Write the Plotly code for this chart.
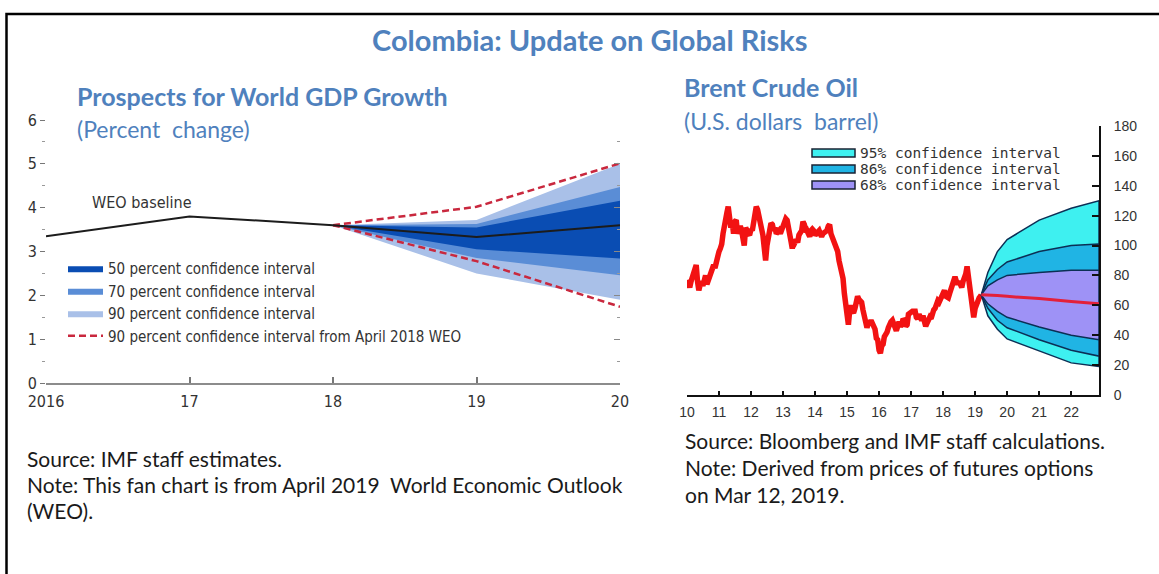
import datetime as dt
import plotly.graph_objects as go

# ---------------- World GDP growth fan chart (percent change) ----------------
gdp_years = [2016, 2017, 2018, 2019, 2020]
gdp_year_labels = ["2016", "17", "18", "19", "20"]
weo_baseline = [3.35, 3.8, 3.6, 3.33, 3.6]

fan_years = [2018, 2019, 2020]
ci50_low = [3.6, 3.05, 2.84]
ci50_high = [3.6, 3.55, 4.16]
ci70_low = [3.6, 2.85, 2.46]
ci70_high = [3.6, 3.63, 4.47]
ci90_low = [3.6, 2.5, 1.9]
ci90_high = [3.6, 3.72, 5.0]
weo2018_low = [3.6, 2.78, 1.74]
weo2018_high = [3.6, 4.02, 5.01]

gdp_yticks = [0, 1, 2, 3, 4, 5, 6]

# ---------------- Brent crude oil (U.S. dollars a barrel) ----------------
# semi-monthly readings (1st and 16th of each month)
brent_2010 = [77, 74, 72, 76, 79, 80, 84, 87, 76, 70, 74, 76, 73, 77, 80, 74, 77, 79, 82, 83, 87, 85, 90, 93]
brent_2011 = [96, 98, 101, 108, 114, 115, 122, 126, 114, 112, 116, 108, 116, 117, 108, 110, 113, 110, 104, 100, 112, 109, 108, 107]
brent_2012 = [111, 110, 118, 122, 126, 124, 120, 118, 112, 107, 98, 90, 100, 105, 113, 115, 114, 110, 112, 108, 109, 110, 108, 111]
brent_2013 = [112, 114, 118, 117, 110, 108, 103, 98, 103, 102, 104, 102, 107, 109, 110, 116, 114, 109, 110, 108, 106, 110, 111, 110]
brent_2014 = [107, 108, 109, 110, 108, 106, 108, 109, 110, 110, 113, 114, 108, 106, 104, 102, 99, 96, 90, 86, 80, 78, 68, 60]
brent_2015 = [50, 47, 57, 60, 56, 55, 58, 63, 66, 64, 63, 62, 57, 54, 49, 45, 48, 48, 50, 48, 45, 44, 38, 37]
brent_2016 = [30, 28, 33, 34, 39, 40, 42, 45, 48, 49, 50, 48, 46, 43, 46, 49, 46, 47, 51, 50, 46, 47, 54, 55]
brent_2017 = [55, 56, 56, 56, 52, 51, 54, 52, 50, 53, 47, 46, 48, 51, 52, 51, 55, 57, 58, 60, 63, 62, 64, 66]
brent_2018 = [69, 70, 66, 65, 65, 68, 71, 74, 77, 79, 76, 74, 76, 73, 72, 76, 78, 81, 86, 80, 70, 62, 60, 52]
brent_2019_dates = ["2019-01-01", "2019-01-16", "2019-02-01", "2019-02-16", "2019-03-01", "2019-03-12"]
brent_2019 = [58, 61, 62, 65, 66, 67]

# futures-implied distribution from Mar 12, 2019
oil_fan_dates = ["2019-03-12", "2019-05-26", "2019-09-12", "2020-01-01", "2021-01-01", "2022-01-01", "2022-11-14"]
oil_median = [67, 67, 66.5, 66, 64.5, 62.5, 61]
oil_ci68_high = [67, 73, 77, 80, 82, 83.5, 83.5]
oil_ci68_low = [67, 61, 56, 52, 45.5, 40, 37]
oil_ci86_high = [67, 77, 84, 89, 96, 100, 101]
oil_ci86_low = [67, 58, 50, 45, 37, 30, 26]
oil_ci95_high = [67, 82, 96, 104, 117, 125, 130]
oil_ci95_low = [67, 53, 44, 37.5, 29.5, 21.5, 19]

oil_legend_labels = ["95% confidence interval", "86% confidence interval", "68% confidence interval"]
oil_year_labels = ["10", "11", "12", "13", "14", "15", "16", "17", "18", "19", "20", "21", "22"]
oil_yticks = [0, 20, 40, 60, 80, 100, 120, 140, 160, 180]

# assemble the oil history series
brent_by_year = {2010: brent_2010, 2011: brent_2011, 2012: brent_2012, 2013: brent_2013,
                 2014: brent_2014, 2015: brent_2015, 2016: brent_2016, 2017: brent_2017,
                 2018: brent_2018}
brent_dates, brent_values = [], []
for yr, vals in brent_by_year.items():
    for k, v in enumerate(vals):
        brent_dates.append(dt.date(yr, k // 2 + 1, 1 if k % 2 == 0 else 16).isoformat())
        brent_values.append(v)
brent_dates += brent_2019_dates
brent_values += brent_2019

# ---------------- styling ----------------
W, H = 1159, 574
BLUE_TITLE = "#4F81BD"
NARROW = "Liberation Sans Narrow, DejaVu Sans Condensed, Arial Narrow, Roboto, sans-serif"
CALIBRI = "Lato, Open Sans, sans-serif"
ARIAL = "Liberation Sans, Arial, sans-serif"
MONO = "DejaVu Sans Mono, Liberation Mono, monospace"

OIL_COLORS = ["#3EF0F0", "#20B4E4", "#9E92F6"]
OIL_EDGE = "#0C2F55"


def px_x(p):
    return p / W


def px_y(p):
    return 1 - p / H


fig = go.Figure()


def band(x, low, high, color, name, xa, ya, rank, line=None, legend=True):
    fig.add_trace(go.Scatter(
        x=list(x) + list(x)[::-1], y=list(high) + list(low)[::-1],
        fill="toself", fillcolor=color, mode="lines",
        line=line or dict(width=0, color=color),
        name=name, xaxis=xa, yaxis=ya, legendrank=rank,
        hoverinfo="skip", showlegend=legend))


# left fan: widest first so narrower bands sit on top
band(fan_years, ci90_low, ci90_high, "#A9C0E8", "90 percent confidence interval", "x", "y", 3)
band(fan_years, ci70_low, ci70_high, "#5A8DD6", "70 percent confidence interval", "x", "y", 2)
band(fan_years, ci50_low, ci50_high, "#0A4DB3", "50 percent confidence interval", "x", "y", 1)

# baseline sits on the mirrored right-hand axis (same 0-6 scale)
fig.add_trace(go.Scatter(x=gdp_years, y=weo_baseline, mode="lines",
                         line=dict(color="#1c1c1c", width=2), showlegend=False,
                         xaxis="x", yaxis="y2"))
red_dash = dict(color="#C9283E", width=2.5, dash="7px,4px")
fig.add_trace(go.Scatter(x=fan_years, y=weo2018_high, mode="lines", line=red_dash,
                         name="90 percent confidence interval from April 2018 WEO",
                         legendrank=4, xaxis="x", yaxis="y"))
fig.add_trace(go.Scatter(x=fan_years, y=weo2018_low, mode="lines", line=red_dash,
                         showlegend=False, xaxis="x", yaxis="y"))

# right chart: oil history
fig.add_trace(go.Scatter(x=brent_dates, y=brent_values, mode="lines",
                         line=dict(color="#F21212", width=5.5), showlegend=False,
                         xaxis="x2", yaxis="y3"))

edge = dict(color=OIL_EDGE, width=1.5)
band(oil_fan_dates, oil_ci95_low, oil_ci95_high, OIL_COLORS[0], oil_legend_labels[0], "x2", "y3", 5, edge, False)
band(oil_fan_dates, oil_ci86_low, oil_ci86_high, OIL_COLORS[1], oil_legend_labels[1], "x2", "y3", 6, edge, False)
band(oil_fan_dates, oil_ci68_low, oil_ci68_high, OIL_COLORS[2], oil_legend_labels[2], "x2", "y3", 7, edge, False)
fig.add_trace(go.Scatter(x=oil_fan_dates, y=oil_median, mode="lines",
                         line=dict(color="#E3203A", width=3), showlegend=False,
                         xaxis="x2", yaxis="y3"))

tick_font = dict(family=NARROW, size=16, color="#333333")
oil_tick_font = dict(family=ARIAL, size=14, color="#333333")

fig.update_layout(
    width=W, height=H, margin=dict(l=0, r=0, t=0, b=0, autoexpand=False),
    paper_bgcolor="white", plot_bgcolor="rgba(0,0,0,0)",
    xaxis=dict(domain=[px_x(46), px_x(620)], range=[2016, 2020], anchor="y",
               tickvals=gdp_years, ticktext=gdp_year_labels, ticks="inside", ticklen=6,
               tickcolor="#777777", tickwidth=1.5, showline=True, linecolor="#8C8C8C",
               linewidth=2, showgrid=False, zeroline=False, tickfont=tick_font,
               ticklabelstandoff=3),
    yaxis=dict(domain=[px_y(383), px_y(120)], range=[0, 6], anchor="x",
               tickvals=gdp_yticks, ticks="outside", ticklen=5, tickcolor="#777777",
               minor=dict(dtick=0.5, ticks="outside", ticklen=3, tickcolor="#999999"),
               showline=False, showgrid=False, zeroline=False, tickfont=tick_font),
    yaxis2=dict(overlaying="y", side="right", anchor="x", range=[0, 6],
                tickvals=gdp_yticks, ticks="inside", ticklen=6, tickcolor="#888888",
                minor=dict(dtick=0.5, ticks="inside", ticklen=3, tickcolor="#999999"),
                showticklabels=False, showline=False, showgrid=False, zeroline=False),
    xaxis2=dict(domain=[px_x(687), px_x(1099)], type="date",
                range=["2010-01-01", "2022-11-14"], anchor="y3",
                tickvals=[f"20{y}-01-01" for y in oil_year_labels], ticktext=oil_year_labels,
                ticks="inside", ticklen=4, tickcolor="#111111", tickwidth=2,
                showline=True, linecolor="#111111", linewidth=2,
                showgrid=False, zeroline=False, tickfont=oil_tick_font,
                ticklabelstandoff=3),
    yaxis3=dict(domain=[px_y(395), px_y(126)], range=[0, 180], anchor="x2", side="right",
                tickvals=oil_yticks, ticks="inside", ticklen=7, tickcolor="#111111", tickwidth=2,
                showline=True, linecolor="#111111", linewidth=2, ticklabelstandoff=10,
                showgrid=False, zeroline=False, tickfont=oil_tick_font),
    legend=dict(x=px_x(63), y=px_y(252), xanchor="left", yanchor="top",
                bgcolor="rgba(0,0,0,0)", traceorder="normal", itemwidth=35,
                font=dict(family=NARROW, size=15, color="#333333"), tracegroupgap=0),
    showlegend=True,
)

NOTE_FONT = dict(family=CALIBRI, size=21, color="#1a1a1a")
annotations = [
    dict(text="<b>Colombia: Update on Global Risks</b>", x=px_x(590), y=px_y(40),
         font=dict(family=CALIBRI, size=29, color=BLUE_TITLE), xanchor="center"),
    dict(text="<b>Prospects for World GDP Growth</b>", x=px_x(75), y=px_y(96),
         font=dict(family=CALIBRI, size=25, color=BLUE_TITLE), xanchor="left"),
    dict(text="(Percent  change)", x=px_x(75), y=px_y(129),
         font=dict(family=CALIBRI, size=23, color=BLUE_TITLE), xanchor="left"),
    dict(text="<b>Brent Crude Oil</b>", x=px_x(682), y=px_y(87),
         font=dict(family=CALIBRI, size=25, color=BLUE_TITLE), xanchor="left"),
    dict(text="(U.S. dollars  barrel)", x=px_x(682), y=px_y(121),
         font=dict(family=CALIBRI, size=23, color=BLUE_TITLE), xanchor="left"),
    dict(text="WEO baseline", x=px_x(90), y=px_y(202),
         font=dict(family=NARROW, size=16, color="#333333"), xanchor="left"),
    dict(text="Source: IMF staff estimates.", x=px_x(25), y=px_y(458), font=NOTE_FONT, xanchor="left"),
    dict(text="Note: This fan chart is from April 2019  World Economic Outlook", x=px_x(25), y=px_y(484),
         font=NOTE_FONT, xanchor="left"),
    dict(text="(WEO).", x=px_x(25), y=px_y(510), font=NOTE_FONT, xanchor="left"),
    dict(text="Source: Bloomberg and IMF staff calculations.", x=px_x(683), y=px_y(440),
         font=NOTE_FONT, xanchor="left"),
    dict(text="Note: Derived from prices of futures options", x=px_x(683), y=px_y(467),
         font=NOTE_FONT, xanchor="left"),
    dict(text="on Mar 12, 2019.", x=px_x(683), y=px_y(494), font=NOTE_FONT, xanchor="left"),
]

# key for the oil fan: swatches with labels
oil_key_rows = [153, 169, 185]
for label, color, row in zip(oil_legend_labels, OIL_COLORS, oil_key_rows):
    fig.add_shape(type="rect", xref="paper", yref="paper",
                  x0=px_x(812), x1=px_x(855), y0=px_y(row + 4), y1=px_y(row - 4),
                  fillcolor=color, line=dict(color="#1a2233", width=1.5))
    annotations.append(dict(text=label, x=px_x(858), y=px_y(row),
                            font=dict(family=MONO, size=14.5, color="#333333"), xanchor="left"))

for a in annotations:
    a.update(xref="paper", yref="paper", yanchor="middle", showarrow=False)
fig.update_layout(annotations=annotations)

# page frame
fig.add_shape(type="rect", xref="paper", yref="paper",
              x0=px_x(6.5), x1=px_x(1170), y0=px_y(585), y1=px_y(14),
              line=dict(color="black", width=2.5), layer="above")

fig.write_html("out.html")
